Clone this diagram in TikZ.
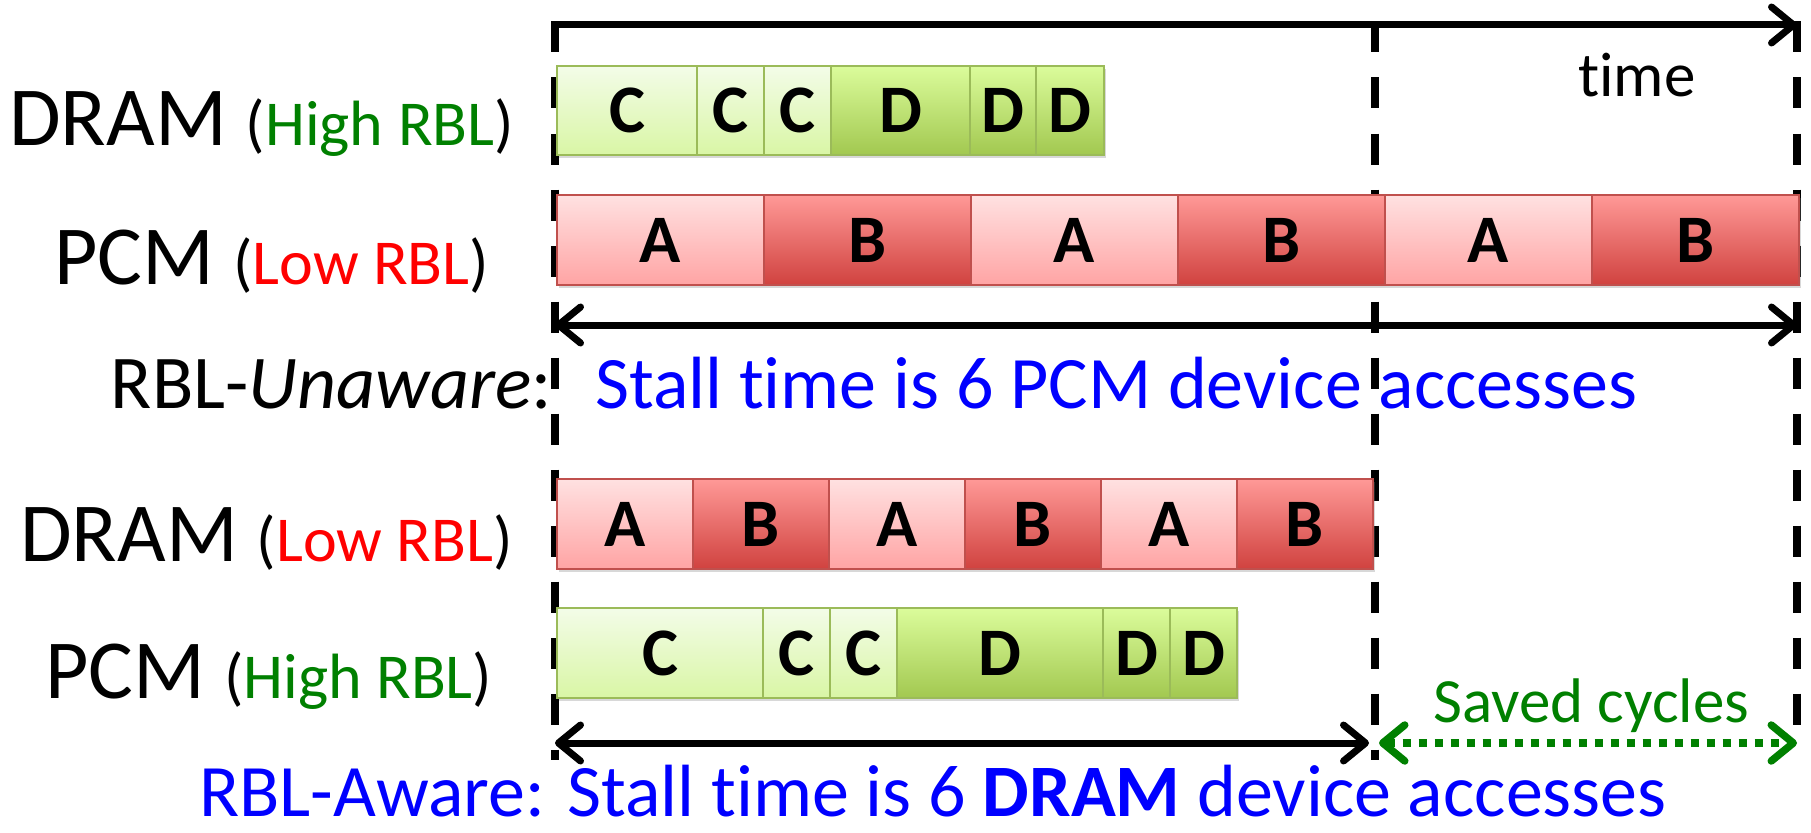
\documentclass[tikz,border=0pt]{standalone}
\usepackage{fontspec}
\setmainfont{Carlito}[Ligatures=NoCommon]
\usetikzlibrary{arrows.meta,shadows}
\definecolor{tgreen}{RGB}{0,128,0}
\definecolor{tblue}{RGB}{0,0,255}
\definecolor{tred}{RGB}{255,0,0}
\definecolor{gbord}{RGB}{155,187,89}
\definecolor{rbord}{RGB}{192,80,77}
\definecolor{ctop}{RGB}{243,252,232}
\definecolor{cbot}{RGB}{217,246,165}
\definecolor{dtop}{RGB}{219,252,155}
\definecolor{dbot}{RGB}{162,200,80}
\definecolor{atop}{RGB}{255,225,225}
\definecolor{abot}{RGB}{255,164,164}
\definecolor{btop}{RGB}{255,153,151}
\definecolor{bbot}{RGB}{208,66,63}
\newcommand{\bigf}{\fontsize{84}{90}\selectfont}
\newcommand{\midf}{\fontsize{64}{70}\selectfont}
\newcommand{\txtf}{\fontsize{74}{80}\selectfont}
\tikzset{
  acc/.style={rectangle, anchor=north west, inner sep=0pt, line width=2pt,
    font=\fontsize{68}{68}\selectfont\bfseries,
    drop shadow={shadow xshift=2pt, shadow yshift=-3pt, opacity=0.3}},
  cacc/.style={acc, draw=gbord, top color=ctop, bottom color=cbot},
  dacc/.style={acc, draw=gbord, top color=dtop, bottom color=dbot},
  aacc/.style={acc, draw=rbord, top color=atop, bottom color=abot},
  bacc/.style={acc, draw=rbord, top color=btop, bottom color=bbot},
  vline/.style={line width=7.5pt, dash pattern=on 31pt off 25pt},
  axisline/.style={line width=7pt},
  dotline/.style={line width=7.5pt, draw=tgreen, dash pattern=on 8pt off 8pt},
  lbl/.style={anchor=base west, inner sep=0pt},
}
\begin{document}
\begin{tikzpicture}[x=1pt, y=-1pt, >={Straight Barb[length=22pt,width=36pt,round]}]
\fill[white] (0,0) rectangle (1811,832);
\path[use as bounding box] (0,0) rectangle (1811,832);

% coordinates
\coordinate (v0) at (555,21.5);
\coordinate (v1) at (1375,21.5);
\coordinate (v2) at (1797,21.5);
\coordinate (w0) at (555,760);
\coordinate (w1) at (1375,760);
\coordinate (w2) at (1797,745);
\coordinate (a0) at (551.5,25);
\coordinate (a2) at (1797,25);
\coordinate (r1l) at (555,325);
\coordinate (r1r) at (1797,325);
\coordinate (r2l) at (555,743);
\coordinate (r2m) at (1369,743);
\coordinate (r2n) at (1379,743);
\coordinate (r2r) at (1797,743);

% dashed verticals
\draw[vline] (v0) -- (w0);
\draw[vline] (v1) -- (w1);
\draw[vline] (v2) -- (w2);

% top axis
\draw[axisline, ->] (a0) -- (a2);

% row 1: DRAM (High RBL)
\foreach \x/\w/\s/\t [count=\i] in {556/140/cacc/C, 696/67/cacc/C, 763/67/cacc/C, 830/139/dacc/D, 969/66/dacc/D, 1035/68/dacc/D}
  \node[\s, minimum width=\w pt, minimum height=89pt] (ua\i) at (\x,65) {\t};
% row 2: PCM (Low RBL)
\foreach \x/\s/\t [count=\i] in {556/aacc/A, 763/bacc/B, 970/aacc/A, 1177/bacc/B, 1384/aacc/A, 1591/bacc/B}
  \node[\s, minimum width=207pt, minimum height=90pt] (ub\i) at (\x,194) {\t};
% row 3: DRAM (Low RBL)
\foreach \x/\s/\t [count=\i] in {556/aacc/A, 692/bacc/B, 828/aacc/A, 964/bacc/B, 1100/aacc/A, 1236/bacc/B}
  \node[\s, minimum width=136pt, minimum height=90pt] (la\i) at (\x,478) {\t};
% row 4: PCM (High RBL)
\foreach \x/\w/\s/\t [count=\i] in {556/206/cacc/C, 762/67/cacc/C, 829/67/cacc/C, 896/206/dacc/D, 1102/67/dacc/D, 1169/67/dacc/D}
  \node[\s, minimum width=\w pt, minimum height=90pt] (lb\i) at (\x,607) {\t};

% arrows
\draw[axisline, <->] (r1l) -- (r1r);
\draw[axisline, <->] (r2l) -- (r2m);
\draw[dotline, <->] (r2n) -- (r2r);

% labels
\node[lbl] (t1) at (9,146) {\bigf DRAM {\midf(\textcolor{tgreen}{High RBL})}};
\node[lbl] (t2) at (54,284) {\bigf PCM {\midf(\textcolor{tred}{Low RBL})}};
\node[lbl] (t3) at (20,561) {\bigf DRAM {\midf(\textcolor{tred}{Low RBL})}};
\node[lbl] (t4) at (45,698) {\bigf PCM {\midf(\textcolor{tgreen}{High RBL})}};
\node[lbl] (time) at (1578,97) {\fontsize{63}{70}\selectfont time};
\node[anchor=base east, inner sep=0pt] (un) at (552,408) {\fontsize{76}{80}\selectfont RBL-\textit{Unaware}:};
\node[lbl, text=tblue] (st1) at (595,408) {\txtf Stall time is 6 PCM device accesses};
\node[lbl, text=tgreen] (sv) at (1433,722) {\fontsize{63}{70}\selectfont Saved cycles};
\node[lbl, text=tblue] (st2) at (199,816) {\txtf RBL-Aware: Stall time is 6 \textbf{DRAM} device accesses};
\end{tikzpicture}
\end{document}
